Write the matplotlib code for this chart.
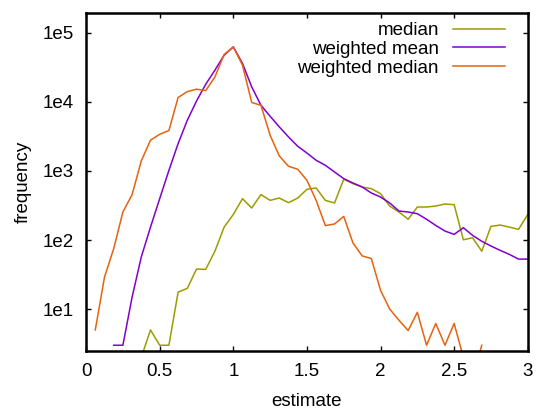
import numpy as np
import matplotlib
matplotlib.use('Agg')
import matplotlib.pyplot as plt

plt.rcParams['font.family'] = ['Liberation Sans', 'DejaVu Sans']
plt.rcParams['font.size'] = 13.5

# estimate bins (1/16 steps)
estimate = np.arange(1, 49) / 16.0

median = [0, 0, 0, 0, 0, 2, 5, 3, 3, 17.6,
          20, 38, 37.6, 69, 154, 235, 398, 291, 455, 376,
          406, 348, 406, 543, 568, 376, 344, 759, 656, 587,
          555, 470, 310, 255, 200, 301, 301, 311, 333, 325,
          101, 108, 69, 158, 165, 154, 143, 235]

weighted_mean = [0, 0, 3, 3, 14.9, 57, 154, 398, 1020, 2490,
                 5430, 10300, 18000, 28800, 47500, 62600, 36000, 16500, 8960, 6200,
                 4350, 3110, 2280, 1820, 1430, 1210, 968, 776, 670, 587,
                 480, 420, 344, 263, 255, 241, 200, 163, 135, 121,
                 151, 117, 96, 82, 71, 62, 53, 53]

weighted_median = [5, 29, 75, 255, 455, 1400, 2790, 3400, 3850, 11600,
                   14100, 15300, 14600, 23000, 48600, 62600, 34000, 9800, 8960, 3290,
                   1650, 1170, 1060, 733, 376, 162, 171, 220, 91, 59,
                   54, 18.7, 10, 6.9, 4.9, 9, 3, 6.2, 3, 6.2,
                   2, 1, 3, 0, 0, 0, 0, 0]

series = [('median', median, '#9c9c00'),
          ('weighted mean', weighted_mean, '#8000d0'),
          ('weighted median', weighted_median, '#e8620e')]


def mask_zero(vals):
    # empty bins can't go on a log axis, leave a gap like gnuplot does
    arr = np.array(vals, dtype=float)
    return np.where(arr > 0, arr, np.nan)


fig = plt.figure(figsize=(5.38, 4.09), dpi=100)
ax = fig.add_axes([0.160, 0.1425, 0.821, 0.8265])

for name, vals, col in series:
    ax.plot(estimate, mask_zero(vals), color=col, lw=1.1, label=name)

ax.set_yscale('log')
ax.set_xlim(0, 3)
ax.set_ylim(2.5, 1.96e5)
ax.set_xticks([0, 0.5, 1, 1.5, 2, 2.5, 3])
ax.set_xticklabels(['0', '0.5', '1', '1.5', '2', '2.5', '3'])
ax.set_yticks([1e1, 1e2, 1e3, 1e4, 1e5])
ax.set_yticklabels(['1e1', '1e2', '1e3', '1e4', '1e5'])
ax.yaxis.set_minor_locator(matplotlib.ticker.NullLocator())
ax.tick_params(direction='in', length=3.5, width=1, top=True, right=True)
ax.tick_params(axis='x', pad=9)
ax.tick_params(axis='y', pad=8.6)
for sp in ax.spines.values():
    sp.set_linewidth(1.8)

ax.set_xlabel('estimate', labelpad=9.5)
ax.set_ylabel('frequency', labelpad=8)

ax.legend(loc='upper right', bbox_to_anchor=(0.948, 0.972), frameon=False,
          markerfirst=False, handlelength=2.77, handletextpad=0.75,
          labelspacing=0.085, borderaxespad=0.0, borderpad=0.0)

fig.savefig('out.png', dpi=100)
